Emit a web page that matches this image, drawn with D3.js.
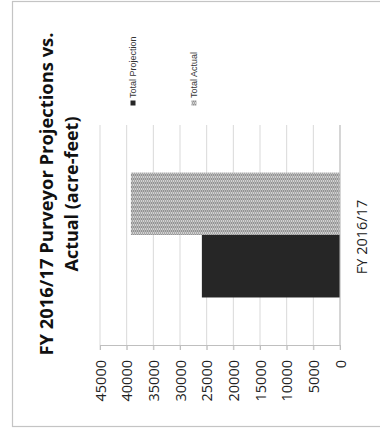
<!DOCTYPE html>
<html><head><meta charset="utf-8">
<script src="https://cdn.jsdelivr.net/npm/d3@7"></script>
<style>body{margin:0;background:#fff}svg{display:block}</style>
</head><body><svg id="c" width="380" height="433"></svg>
<script>
const categories = ["FY 2016/17"];
const seriesNames = ["Total Projection", "Total Actual"];
const totalProjection = [25900];
const totalActual = [39200];
const tickValues = [0, 5000, 10000, 15000, 20000, 25000, 30000, 35000, 40000, 45000];
const titleLines = ["FY 2016/17 Purveyor Projections  vs.", "Actual (acre-feet)"];

const svg = d3.select("#c");
const defs = svg.append("defs");
const pat = defs.append("pattern").attr("id","dots").attr("patternUnits","userSpaceOnUse")
  .attr("width",4).attr("height",4);
pat.append("rect").attr("width",4).attr("height",4).attr("fill","#d2d2d2");
pat.append("path").attr("d","M0,0.5L2,2L0,3.5M2,0.5L4,2L2,3.5").attr("stroke","#7a7a7a").attr("stroke-width",0.8).attr("fill","none");

// outer border
svg.append("rect").attr("x",12.5).attr("y",1.5).attr("width",380).attr("height",425)
  .attr("fill","none").attr("stroke","#c4c4c4").attr("stroke-width",1.2);

const font = "'Open Sans', sans-serif";
const x = d3.scaleLinear().domain([0,45000]).range([340,100]);
const y0 = d3.scaleBand().domain(categories).range([345,125]);
const y1 = d3.scaleBand().domain(seriesNames).range([y0.bandwidth()*0.784, y0.bandwidth()*0.216]);
const fills = {"Total Projection":"#262626","Total Actual":"url(#dots)"};
const data = categories.map((c,i)=>({cat:c, vals:[
  {name:"Total Projection", v: totalProjection[i]},
  {name:"Total Actual", v: totalActual[i]}]}));

// gridlines
svg.append("g").selectAll("line").data(tickValues).join("line")
  .attr("x1",d=>x(d)).attr("x2",d=>x(d)).attr("y1",125).attr("y2",350)
  .attr("stroke","#d9d9d9").attr("stroke-width",1);

// value axis (bottom)
const ax = svg.append("g").attr("transform","translate(0,345)")
  .call(d3.axisBottom(x).tickValues(tickValues).tickSize(5).tickFormat(d3.format("d")));
ax.select(".domain").attr("stroke","#bfbfbf");
ax.selectAll(".tick line").attr("stroke","#bfbfbf");
ax.selectAll(".tick text").attr("transform","rotate(-90)").attr("text-anchor","end")
  .attr("x",-15).attr("y",0).attr("dy","0.36em")
  .style("font-family",font).style("font-size","14.5px").attr("fill","#222");

// bars
const g = svg.append("g").selectAll("g").data(data).join("g")
  .attr("transform",d=>`translate(0,${y0(d.cat)})`);
g.selectAll("rect").data(d=>d.vals).join("rect")
  .attr("x",d=>x(d.v)).attr("width",d=>x(0)-x(d.v))
  .attr("y",d=>y1(d.name)).attr("height",y1.bandwidth())
  .attr("fill",d=>fills[d.name]);

// category axis line
svg.append("line").attr("x1",340).attr("x2",340).attr("y1",125).attr("y2",345)
  .attr("stroke","#bfbfbf");

// category label
svg.append("g").selectAll("text").data(categories).join("text")
  .attr("transform",d=>`translate(362,${y0(d)+y0.bandwidth()/2+2}) rotate(-90)`)
  .attr("text-anchor","middle").attr("dy","0.36em")
  .style("font-family",font).style("font-size","14.5px").attr("fill","#222").text(d=>d);

// title
svg.append("g").selectAll("text").data(titleLines).join("text")
  .attr("transform",(d,i)=>`translate(${47+i*25},194) rotate(-90)`)
  .attr("text-anchor","middle").attr("dy","0.36em")
  .style("font-family",font).style("font-weight","bold").style("font-size","17.5px")
  .attr("fill","#111")
  .attr("textLength",(d,i)=>i===0?323:155).attr("lengthAdjust","spacingAndGlyphs")
  .text(d=>d);

// legend
const leg = svg.append("g").selectAll("g").data(seriesNames).join("g")
  .attr("transform",(d,i)=>`translate(${i===0?133:194},103)`);
leg.append("rect").attr("x",-2.5).attr("y",-2.5).attr("width",5).attr("height",5)
  .attr("fill",d=>fills[d]);
leg.append("text").attr("transform","translate(0,-5) rotate(-90)").attr("dy","0.35em")
  .style("font-family","'Liberation Sans', Arial, sans-serif").style("font-size","9px")
  .attr("fill","#333").text(d=>d);
</script></body></html>
